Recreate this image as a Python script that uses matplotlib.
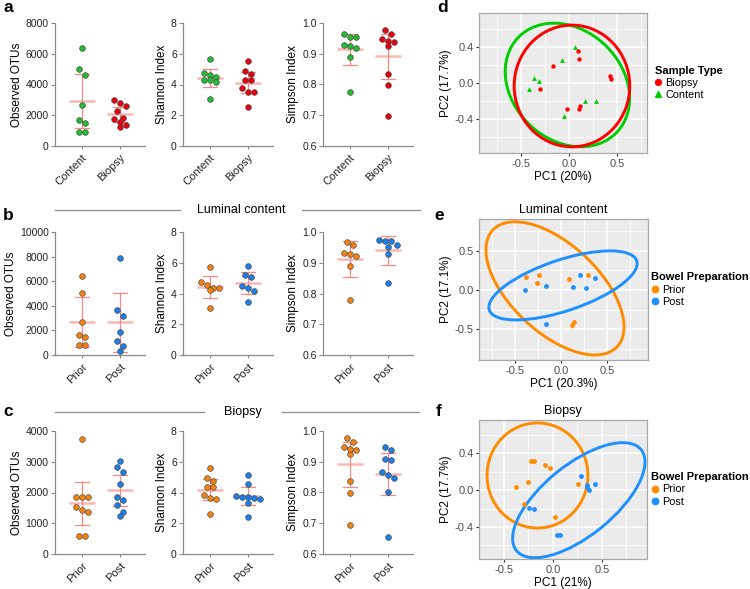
import numpy as np
import matplotlib
matplotlib.use("Agg")
import matplotlib.pyplot as plt
from matplotlib.lines import Line2D
from matplotlib.patches import Circle
from matplotlib.transforms import Affine2D
from matplotlib.ticker import MultipleLocator, FormatStrFormatter

plt.rcParams['font.family'] = ['Liberation Sans', 'DejaVu Sans']

# ---------------- alpha diversity ----------------
# a: luminal content vs biopsy
a_otu_content = [6370, 4980, 4590, 2670, 1700, 1500, 890, 890]
a_otu_biopsy = [3000, 2780, 2630, 2280, 1850, 1740, 1590, 1370, 1240]
a_sha_content = [5.65, 4.50, 4.63, 4.74, 4.30, 4.30, 4.15, 3.04]
a_sha_biopsy = [5.54, 4.91, 4.70, 4.30, 4.30, 3.80, 3.54, 3.54, 2.54]
a_sim_content = [0.956, 0.954, 0.965, 0.929, 0.920, 0.925, 0.888, 0.777]
a_sim_biopsy = [0.964, 0.977, 0.947, 0.938, 0.941, 0.925, 0.835, 0.798, 0.696]

# b: luminal content, prior vs post bowel preparation
b_otu_prior = [6420, 5010, 2680, 1650, 1490, 840, 840]
b_otu_post = [7860, 3630, 3140, 1900, 1110, 760, 330]
b_sha_prior = [5.70, 4.55, 4.36, 4.77, 4.21, 4.36, 3.06]
b_sha_post = [5.79, 5.10, 5.23, 4.36, 4.49, 4.14, 3.47]
b_sim_prior = [0.968, 0.959, 0.933, 0.923, 0.928, 0.891, 0.778]
b_sim_post = [0.970, 0.975, 0.972, 0.951, 0.958, 0.927, 0.833]

# c: biopsy, prior vs post bowel preparation
c_otu_prior = [3730, 1860, 1860, 1860, 1530, 1420, 1360, 590, 600]
c_otu_post = [3040, 2670, 2820, 2280, 1850, 1750, 1580, 1380, 1240]
c_sha_prior = [5.62, 4.75, 4.97, 4.38, 4.34, 3.84, 3.62, 3.58, 2.58]
c_sha_post = [5.14, 4.55, 3.79, 3.30, 2.41, 3.69, 3.60, 3.62, 3.69]
c_sim_prior = [0.948, 0.964, 0.978, 0.939, 0.926, 0.943, 0.837, 0.799, 0.695]
c_sim_post = [0.937, 0.948, 0.909, 0.905, 0.866, 0.856, 0.848, 0.803, 0.656]

# two-sided 95% t quantiles by degrees of freedom
T95 = {6: 2.447, 7: 2.365, 8: 2.306}

# ---------------- PCA ----------------
d_biopsy_pc1 = [0.09, 0.107, -0.165, 0.427, 0.434, -0.30, -0.02, 0.114, 0.10]
d_biopsy_pc2 = [0.36, 0.27, 0.19, 0.078, 0.048, -0.067, -0.29, -0.256, -0.29]
d_content_pc1 = [0.062, -0.069, -0.362, -0.313, -0.42, 0.165, 0.279, -0.049]
d_content_pc2 = [0.40, 0.256, 0.056, 0.026, -0.067, -0.196, -0.20, -0.367]

e_prior_pc1 = [-0.384, -0.242, -0.26, 0.09, 0.297, 0.141, 0.116]
e_prior_pc2 = [0.161, 0.195, 0.085, 0.136, 0.195, -0.406, -0.445]
e_post_pc1 = [-0.391, -0.166, 0.207, 0.366, 0.134, 0.272, -0.166]
e_post_pc2 = [-0.004, 0.047, 0.195, 0.148, 0.034, 0.021, -0.436]

f_prior_pc1 = [-0.224, -0.197, -0.082, -0.034, -0.252, -0.381, 0.255, -0.296, 0.024]
f_prior_pc2 = [0.310, 0.317, 0.267, 0.241, 0.086, 0.036, 0.065, -0.148, -0.288]
f_post_pc1 = [0.289, 0.347, 0.432, 0.367, 0.35, -0.248, -0.194, 0.037, 0.074]
f_post_pc2 = [0.155, 0.050, 0.065, 0.0, 0.03, -0.191, -0.205, -0.49, -0.486]

# 95% ellipses: centre and two conjugate semi-axes (data units)
d_ell_biopsy = [(0.031, -0.033), (0.60, 0.0), (0.0, 0.678)]
d_ell_content = [(-0.016, -0.022), (0.510, -0.530), (0.396, 0.440)]
e_ell_prior = [(-0.065, 0.019), (0.675, -0.741), (0.327, 0.407)]
e_ell_post = [(0.022, 0.057), (0.80, 0.313), (-0.088, 0.307)]
f_ell_prior = [(-0.158, 0.157), (0.515, 0.0), (0.0, 0.568)]
f_ell_post = [(0.264, -0.110), (0.636, 0.546), (-0.228, 0.298)]

# ---------------- styles ----------------
GREEN, RED = '#22BB33', '#E8000E'
ORANGE, BLUE = '#F5820F', '#1A7FE6'
PCA_RED, PCA_GREEN = '#FF0000', '#00CD00'
PCA_ORANGE, PCA_BLUE = '#FF8C00', '#1E90FF'
MEAN_C, BAR_C = '#F9B7B2', '#F38A84'
SPINE_C = '#8a8a8a'

W, H = 750, 589
fig = plt.figure(figsize=(W / 100, H / 100), dpi=100)


def add_ax(x0, y0, x1, y1):
    return fig.add_axes([x0 / W, 1 - y1 / H, (x1 - x0) / W, (y1 - y0) / H])


def swarm_x(ax, xc, ys, step=6.2):
    """Prism-like symmetric spread of points sharing a row (in pixels)."""
    ys = np.asarray(ys, float)
    pts = ax.transData.transform(np.column_stack([np.full(len(ys), xc), ys]))
    order = np.argsort(-ys)
    xs_px = np.full(len(ys), pts[0, 0])
    group = [order[0]]
    groups = []
    for i in order[1:]:
        if pts[group[0], 1] - pts[i, 1] < step * 1.08:
            group.append(i)
        else:
            groups.append(group)
            group = [i]
    groups.append(group)
    for g in groups:
        n = len(g)
        for k, i in enumerate(g):
            xs_px[i] += (k - (n - 1) / 2) * step
    back = ax.transData.inverted().transform(np.column_stack([xs_px, pts[:, 1]]))
    return back[:, 0]


def strip_panel(ax, groups, colors, cats, ylim, ymaj, ylabel, fmt):
    ax.set_xlim(-0.71, 1.66)
    ax.set_ylim(*ylim)
    for i, (vals, col) in enumerate(zip(groups, colors)):
        vals = np.asarray(vals, float)
        n = len(vals)
        m = vals.mean()
        ci = T95[n - 1] * vals.std(ddof=1) / np.sqrt(n)
        ax.plot([i - 0.34, i + 0.34], [m, m], color=MEAN_C, lw=1.8, zorder=2,
                solid_capstyle='butt')
        ax.plot([i, i], [m - ci, m + ci], color=BAR_C, lw=0.9, zorder=2)
        for yy in (m - ci, m + ci):
            ax.plot([i - 0.18, i + 0.18], [yy, yy], color=BAR_C, lw=0.9, zorder=2)
        xs = swarm_x(ax, i, vals)
        ax.scatter(xs, vals, s=17, c=col, edgecolors='#4a4a4a', linewidths=0.45,
                   zorder=3, clip_on=False)
    ax.set_xticks([0, 1])
    ax.set_xticklabels(cats, rotation=45, ha='right', rotation_mode='anchor', fontsize=8)
    ax.yaxis.set_major_locator(MultipleLocator(ymaj))
    ax.yaxis.set_major_formatter(FormatStrFormatter(fmt))
    ax.tick_params(axis='y', labelsize=7.5, length=3, width=0.8, color=SPINE_C, pad=1.5,
                   labelcolor='#222222')
    ax.tick_params(axis='x', length=2.5, width=0.8, color=SPINE_C, pad=2,
                   labelcolor='#222222')
    for s in ('top', 'right'):
        ax.spines[s].set_visible(False)
    for s in ('left', 'bottom'):
        ax.spines[s].set_color(SPINE_C)
        ax.spines[s].set_linewidth(0.9)
    ax.set_ylabel(ylabel, fontsize=8.5, labelpad=2)


def draw_ellipse(ax, ell, color):
    (cx, cy), u, v = ell
    mtx = np.array([[u[0], v[0], cx], [u[1], v[1], cy], [0, 0, 1]])
    tr = Affine2D(mtx) + ax.transData
    ax.add_patch(Circle((0, 0), 1, transform=tr, fill=False, ec=color, lw=2.1, zorder=3))


def pca_panel(ax, xlim, ylim, xmaj, ymaj, xlabel, ylabel, title=None):
    ax.set_facecolor('#EBEBEB')
    ax.set_xlim(*xlim)
    ax.set_ylim(*ylim)
    ax.xaxis.set_major_locator(MultipleLocator(xmaj))
    ax.xaxis.set_minor_locator(MultipleLocator(xmaj / 2))
    ax.yaxis.set_major_locator(MultipleLocator(ymaj))
    ax.yaxis.set_minor_locator(MultipleLocator(ymaj / 2))
    ax.xaxis.set_major_formatter(FormatStrFormatter('%.1f'))
    ax.yaxis.set_major_formatter(FormatStrFormatter('%.1f'))
    ax.grid(which='major', color='white', lw=1.1)
    ax.grid(which='minor', color='white', lw=0.55)
    ax.set_axisbelow(True)
    ax.tick_params(which='minor', length=0)
    ax.tick_params(which='major', length=2.5, width=0.8, color='#333333', labelsize=8,
                   labelcolor='#4d4d4d', pad=1.5)
    for sp in ax.spines.values():
        sp.set_color('#a8a8a8')
        sp.set_linewidth(0.9)
    ax.set_xlabel(xlabel, fontsize=8.5, labelpad=2)
    ax.set_ylabel(ylabel, fontsize=8.5, labelpad=2)
    if title:
        ax.set_title(title, fontsize=9, pad=4)


def pca_legend(ax, handles, labels, title, dx):
    leg = ax.legend(handles, labels, title=title, loc='center left',
                    bbox_to_anchor=(1.0 + dx, 0.5), frameon=False, fontsize=7.8,
                    title_fontproperties={'weight': 'bold', 'size': 8},
                    handlelength=0.7, handletextpad=0.3, labelspacing=0.2,
                    borderpad=0, borderaxespad=0, alignment='left')
    return leg


# ---------------- strip panels ----------------
cols_x = [(55, 145), (183, 273), (323, 413)]
rows_y = {'a': (23, 146), 'b': (232, 355), 'c': (431, 554)}

panel_data = {
    'a': ([a_otu_content, a_otu_biopsy], [a_sha_content, a_sha_biopsy],
          [a_sim_content, a_sim_biopsy], [GREEN, RED], ['Content', 'Biopsy'], (0, 8000), 2000),
    'b': ([b_otu_prior, b_otu_post], [b_sha_prior, b_sha_post],
          [b_sim_prior, b_sim_post], [ORANGE, BLUE], ['Prior', 'Post'], (0, 10000), 2000),
    'c': ([c_otu_prior, c_otu_post], [c_sha_prior, c_sha_post],
          [c_sim_prior, c_sim_post], [ORANGE, BLUE], ['Prior', 'Post'], (0, 4000), 1000),
}

for key, (otu, sha, sim, colors, cats, otu_lim, otu_step) in panel_data.items():
    y0, y1 = rows_y[key]
    ax1 = add_ax(cols_x[0][0], y0, cols_x[0][1], y1)
    strip_panel(ax1, otu, colors, cats, otu_lim, otu_step, 'Observed OTUs', '%d')
    ax2 = add_ax(cols_x[1][0], y0, cols_x[1][1], y1)
    strip_panel(ax2, sha, colors, cats, (0, 8), 2, 'Shannon Index', '%d')
    ax3 = add_ax(cols_x[2][0], y0, cols_x[2][1], y1)
    strip_panel(ax3, sim, colors, cats, (0.6, 1.0), 0.1, 'Simpson Index', '%.1f')

# section headers
for label, ty, l1, l2 in [('Luminal content', 210, (55, 180), (302, 420)),
                          ('Biopsy', 412, (55, 204), (282, 419))]:
    fig.text(((l1[1] + l2[0]) / 2) / W, 1 - ty / H, label, fontsize=9, ha='center', va='center')
    for a0, a1 in (l1, l2):
        fig.add_artist(Line2D([a0 / W, a1 / W], [1 - ty / H, 1 - ty / H], color='#8c8c8c', lw=0.9))

# ---------------- PCA panels ----------------
axd = add_ax(479, 13, 647, 153)
pca_panel(axd, (-0.934, 0.81), (-0.78, 0.78), 0.5, 0.4, 'PC1 (20%)', 'PC2 (17.7%)')
draw_ellipse(axd, d_ell_content, PCA_GREEN)
draw_ellipse(axd, d_ell_biopsy, PCA_RED)
axd.scatter(d_content_pc1, d_content_pc2, marker='^', s=12, c=PCA_GREEN, lw=0, zorder=4)
axd.scatter(d_biopsy_pc1, d_biopsy_pc2, marker='o', s=10, c=PCA_RED, lw=0, zorder=4)
pca_legend(axd, [Line2D([], [], ls='', marker='o', ms=4.2, color=PCA_RED),
                 Line2D([], [], ls='', marker='^', ms=4.5, color=PCA_GREEN)],
           ['Biopsy', 'Content'], 'Sample Type', 0.045)

axe = add_ax(479, 219, 648, 360)
pca_panel(axe, (-0.89, 0.945), (-0.89, 0.90), 0.5, 0.5, 'PC1 (20.3%)', 'PC2 (17.1%)',
          'Luminal content')
draw_ellipse(axe, e_ell_prior, PCA_ORANGE)
draw_ellipse(axe, e_ell_post, PCA_BLUE)
axe.scatter(e_prior_pc1, e_prior_pc2, s=12, c=PCA_ORANGE, lw=0, zorder=4)
axe.scatter(e_post_pc1, e_post_pc2, s=12, c=PCA_BLUE, lw=0, zorder=4)
bp_handles = [Line2D([], [], ls='', marker='o', ms=4.6, color=PCA_ORANGE),
              Line2D([], [], ls='', marker='o', ms=4.6, color=PCA_BLUE)]
pca_legend(axe, bp_handles, ['Prior', 'Post'], 'Bowel Preparation', 0.02)

axf = add_ax(479, 420, 647, 559)
pca_panel(axf, (-0.755, 0.96), (-0.746, 0.757), 0.5, 0.4, 'PC1 (21%)', 'PC2 (17.7%)',
          'Biopsy')
draw_ellipse(axf, f_ell_prior, PCA_ORANGE)
draw_ellipse(axf, f_ell_post, PCA_BLUE)
axf.scatter(f_prior_pc1, f_prior_pc2, s=12, c=PCA_ORANGE, lw=0, zorder=4)
axf.scatter(f_post_pc1, f_post_pc2, s=12, c=PCA_BLUE, lw=0, zorder=4)
pca_legend(axf, bp_handles, ['Prior', 'Post'], 'Bowel Preparation', 0.025)

# panel letters
for letter, (px, py) in {'a': (3, 8), 'b': (3, 215), 'c': (3, 412),
                         'd': (437, 8), 'e': (434, 215), 'f': (436, 412)}.items():
    fig.text(px / W, 1 - py / H, letter, fontsize=12.5, fontweight='bold', va='center', ha='left')

fig.savefig('out.png', dpi=100)
